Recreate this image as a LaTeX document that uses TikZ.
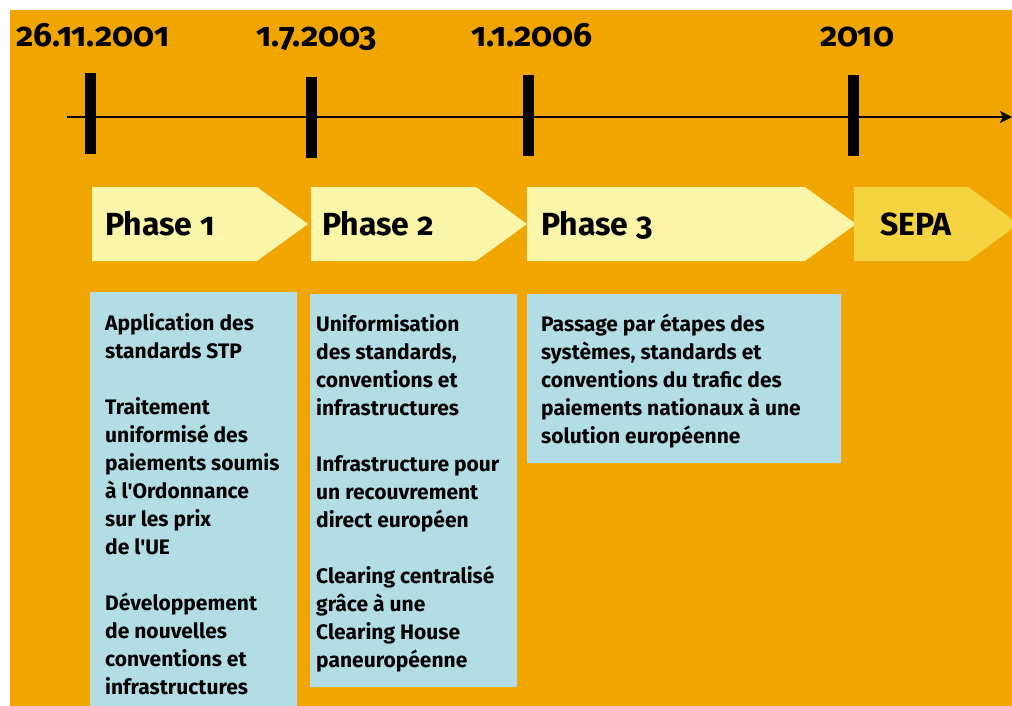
\documentclass[tikz,border=0pt]{standalone}
\usepackage{fontspec}
\setmainfont{Fira Sans}[Numbers=OldStyle, Ligatures=TeXOff]
\usetikzlibrary{arrows.meta}
\definecolor{fond}{HTML}{F0A500}
\definecolor{jaune}{HTML}{FAF5A9}
\definecolor{sepa}{HTML}{F5D442}
\definecolor{bleu}{HTML}{B2DDE5}
\begin{document}
\begin{tikzpicture}[x=1pt,y=-1pt,
 datum/.style={font=\fontsize{33.5}{34}\selectfont\bfseries, anchor=base, inner sep=0},
 phase/.style={font=\fontsize{32}{32}\selectfont\bfseries, anchor=base west, inner sep=0},
 texte/.style={font=\fontsize{21}{28}\selectfont\bfseries, anchor=north west, align=left, inner sep=0}]
\useasboundingbox (0,0) rectangle (1012,706);
\clip (0,0) rectangle (1012,706);
\fill[fond] (10,10) rectangle (1012,706);
% axe du temps
\coordinate (a0) at (67,117);
\coordinate (a1) at (1012,117);
\draw[line width=2pt,-{Stealth[length=12pt,width=12pt,inset=3pt]}] (a0) -- (a1);
\foreach \x/\y in {90/73, 311/77, 528/75, 853/75} \fill (\x-5.5,\y) rectangle +(11,81);
\path (93,47) node[datum] (d1) {26.11.2001} (317,47) node[datum] (d2) {1.7.2003}
 (532,47) node[datum] (d3) {1.1.2006} (857,47) node[datum] (d4) {2010};
% fleches des phases
\foreach \a/\b/\c in {92/257/jaune, 311/476/jaune, 527/805/jaune, 854/968/sepa}
 \fill[\c] (\a,187) -- (\b,187) -- (\b+51,224) -- (\b,261) -- (\a,261) -- cycle;
\path (105,235) node[phase] (p1) {Phase 1} (322,235) node[phase] (p2) {Phase 2}
 (541,235) node[phase] (p3) {Phase 3} (880,235) node[phase] (p4) {SEPA};
% contenus
\fill[bleu] (90,292) rectangle (297,706) (310,294) rectangle (517,687) (527,294) rectangle (841,463);
\node[texte] (t1) at (105,313.5) {Application des\\standards STP\\[28pt]Traitement\\uniformisé des\\paiements soumis\\à l'Ordonnance\\sur les prix\\de l'UE\\[28pt]Développement\\de nouvelles\\conventions et\\infrastructures};
\node[texte] (t2) at (316,314.5) {Uniformisation\\des standards,\\conventions et\\infrastructures\\[28pt]Infrastructure pour\\un recouvrement\\direct européen\\[28pt]Clearing centralisé\\grâce à une\\Clearing House\\paneuropéenne};
\node[texte] (t3) at (541,313.5) {Passage par étapes des\\systèmes, standards et\\conventions du trafic des\\paiements nationaux à une\\solution européenne};
\end{tikzpicture}
\end{document}
